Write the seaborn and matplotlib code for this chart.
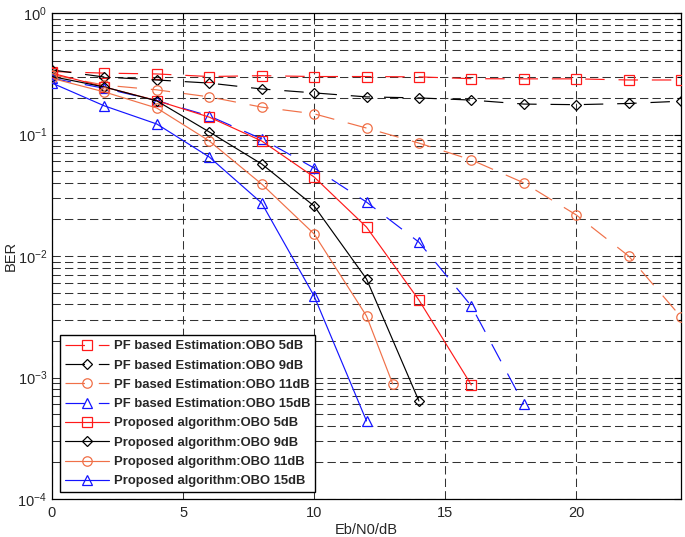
import numpy as np
import pandas as pd
import matplotlib
matplotlib.use("Agg")
import matplotlib.pyplot as plt
import seaborn as sns
from matplotlib.ticker import LogLocator, FixedLocator, NullFormatter

# ---- data ----
snr_pf = [0, 2, 4, 6, 8, 10, 12, 14, 16, 18, 20, 22, 24]
pf_5 = [0.33, 0.32, 0.315, 0.30, 0.305, 0.30, 0.30, 0.298, 0.288, 0.287, 0.287, 0.281, 0.281]
pf_9 = [0.34, 0.297, 0.281, 0.265, 0.237, 0.22, 0.204, 0.200, 0.192, 0.178, 0.176, 0.180, 0.188]
pf_11 = [0.31, 0.255, 0.233, 0.204, 0.168, 0.148, 0.113, 0.085, 0.0618, 0.040, 0.0218, 0.0100, 0.00315]
snr_pf15 = [0, 2, 4, 6, 8, 10, 12, 14, 16, 18]
pf_15 = [0.29, 0.24, 0.19, 0.142, 0.092, 0.053, 0.0278, 0.0130, 0.00388, 0.000605]

snr_p5 = [0, 2, 4, 6, 8, 10, 12, 14, 16]
prop_5 = [0.32, 0.246, 0.19, 0.139, 0.0885, 0.0447, 0.0173, 0.00434, 0.000868]
snr_p9 = [0, 2, 4, 6, 8, 10, 12, 14]
prop_9 = [0.30, 0.246, 0.189, 0.105, 0.0572, 0.0258, 0.00647, 0.000641]
snr_p11 = [0, 2, 4, 6, 8, 10, 12, 13]
prop_11 = [0.29, 0.224, 0.165, 0.0885, 0.0391, 0.0152, 0.00321, 0.000885]
snr_p15 = [0, 2, 4, 6, 8, 10, 12]
prop_15 = [0.265, 0.172, 0.122, 0.0653, 0.0273, 0.00469, 0.000439]

labels = [
    "PF based Estimation:OBO 5dB", "PF based Estimation:OBO 9dB",
    "PF based Estimation:OBO 11dB", "PF based Estimation:OBO 15dB",
    "Proposed algorithm:OBO 5dB", "Proposed algorithm:OBO 9dB",
    "Proposed algorithm:OBO 11dB", "Proposed algorithm:OBO 15dB",
]
x_ticks = [0, 5, 10, 15, 20]

# ---- style ----
sns.set_style("white")
plt.rcParams["font.family"] = ["Liberation Sans", "DejaVu Sans"]
plt.rcParams["mathtext.fontset"] = "custom"
plt.rcParams["mathtext.rm"] = "Liberation Sans"
plt.rcParams["mathtext.it"] = "Liberation Sans:italic"
plt.rcParams["mathtext.bf"] = "Liberation Sans:bold"
plt.rcParams["lines.scale_dashes"] = False

RED = "#FF1A1A"
BLACK = "#000000"
ORANGE = "#F07048"
BLUE = "#1414FF"

fig = plt.figure(figsize=(6.85, 5.37), dpi=100)
ax = fig.add_axes([52 / 685, 1 - 499 / 537, 629 / 685, 486 / 537])

series = [
    (snr_pf, pf_5, RED, "s", 6.5, True),
    (snr_pf, pf_9, BLACK, "D", 5.5, True),
    (snr_pf, pf_11, ORANGE, "o", 6.8, True),
    (snr_pf15, pf_15, BLUE, "^", 7.5, True),
    (snr_p5, prop_5, RED, "s", 6.5, False),
    (snr_p9, prop_9, BLACK, "D", 5.5, False),
    (snr_p11, prop_11, ORANGE, "o", 6.8, False),
    (snr_p15, prop_15, BLUE, "^", 7.5, False),
]

for (xs, ys, c, m, ms, dashed), lab in zip(series, labels):
    df = pd.DataFrame({"x": xs, "y": ys})
    ls = (0, (14, 10)) if dashed else "-"
    sns.lineplot(data=df, x="x", y="y", ax=ax, color=c, marker=m, markersize=ms,
                 markerfacecolor="none", markeredgecolor=c, markeredgewidth=0.9,
                 linewidth=0.85, linestyle=ls, label=lab, sort=False,
                 estimator=None, zorder=3)

ax.set_yscale("log")
ax.set_xlim(0, 24)
ax.set_ylim(1e-4, 1)
ax.xaxis.set_major_locator(FixedLocator(x_ticks))
ax.yaxis.set_major_locator(LogLocator(base=10, numticks=10))
ax.yaxis.set_minor_locator(LogLocator(base=10, subs=np.arange(2, 10), numticks=50))
ax.yaxis.set_minor_formatter(NullFormatter())

grid_kw = dict(color="#333333", linewidth=0.75, linestyle=(0, (6, 3)))
ax.xaxis.grid(True, which="major", **grid_kw)
ax.yaxis.grid(True, which="both", **grid_kw)
ax.set_axisbelow(True)

ax.tick_params(axis="both", which="both", direction="in", top=True, right=True,
               labelsize=10.5, color="black")
ax.tick_params(axis="both", which="major", length=5, width=0.8)
ax.tick_params(axis="y", which="minor", length=3, width=0.8)
ax.tick_params(axis="x", which="major", pad=5)
for s in ax.spines.values():
    s.set_color("black")
    s.set_linewidth(0.9)

ax.set_xlabel("Eb/N0/dB", fontsize=10.5, labelpad=2)
ax.set_ylabel("BER", fontsize=10.5, labelpad=0)

leg = ax.legend(loc="lower left", bbox_to_anchor=(8 / 629, 7 / 486), borderaxespad=0,
                prop={"weight": "bold", "size": 9.4}, frameon=True, fancybox=False,
                framealpha=1, edgecolor="black", handlelength=3.4, handletextpad=0.4,
                labelspacing=0.55, borderpad=0.35, numpoints=1)
leg.get_frame().set_linewidth(1.0)

fig.savefig("out.png", dpi=100)
